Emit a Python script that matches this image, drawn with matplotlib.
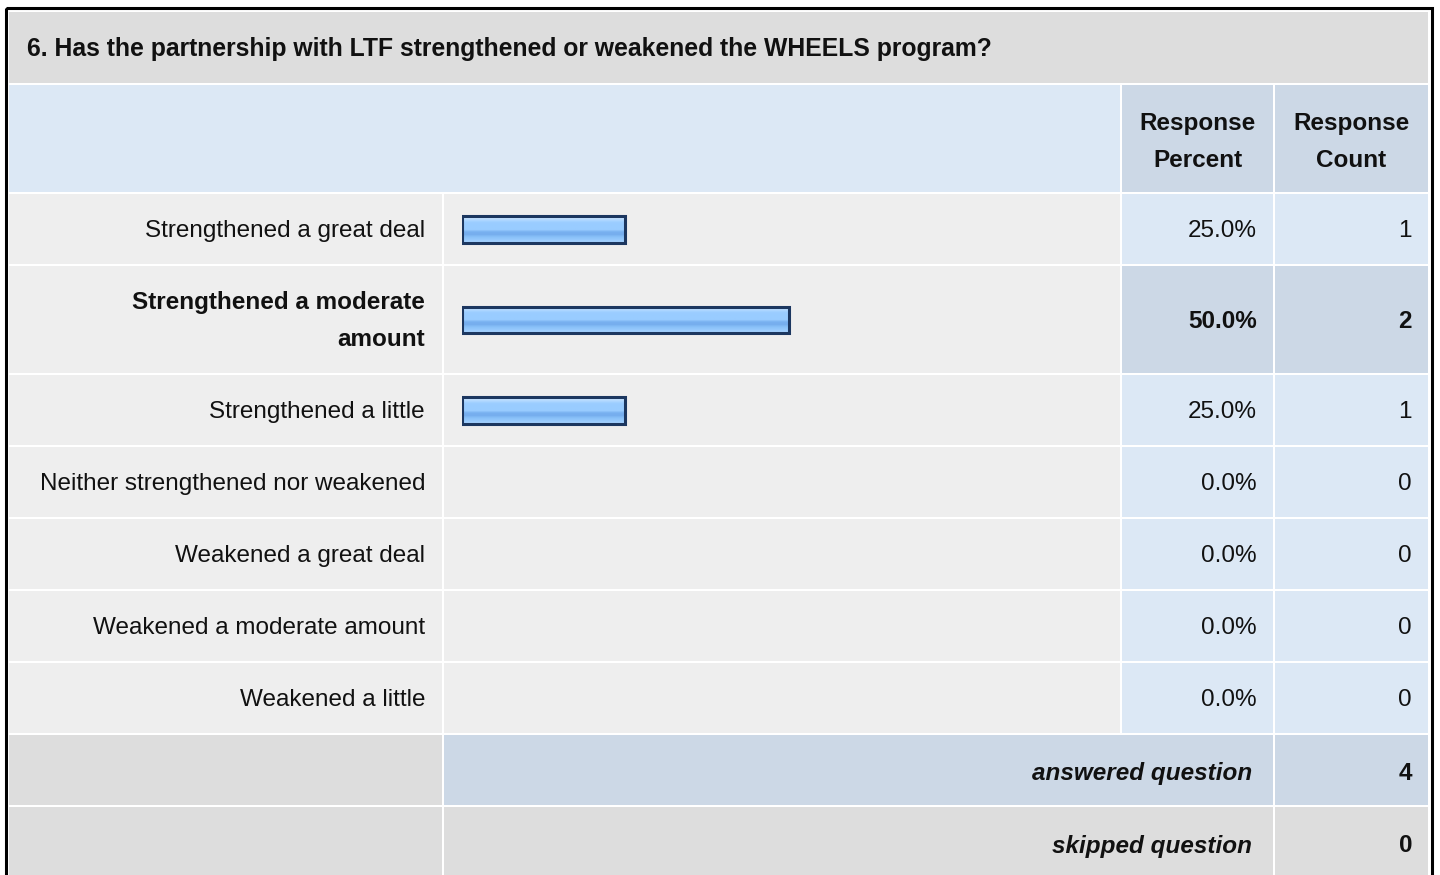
import numpy as np
import matplotlib.pyplot as plt
from matplotlib.patches import Rectangle
from matplotlib.colors import to_rgb

plt.rcParams['font.family'] = ['Liberation Sans', 'DejaVu Sans']

# survey data
question = '6. Has the partnership with LTF strengthened or weakened the WHEELS program?'
labels = ['Strengthened a great deal', 'Strengthened a moderate\namount',
          'Strengthened a little', 'Neither strengthened nor weakened',
          'Weakened a great deal', 'Weakened a moderate amount',
          'Weakened a little']
percents = [25.0, 50.0, 25.0, 0.0, 0.0, 0.0, 0.0]
counts = [1, 2, 1, 0, 0, 0, 0]
answered = 4
skipped = 0

# colours
c_gray = '#dddddd'
c_cell = '#eeeeee'
c_blue = '#dce8f5'
c_dblue = '#ccd8e6'
c_edge = '#1c3760'
grad = ['#cfe6ff', '#b4daff', '#9dceff', '#99ccff', '#99ccff', '#99ccff',
        '#78b0f0', '#76aeee', '#88c0f8', '#94c8fc', '#a4d2ff']

# layout in pixels (1440 x 875)
W, H = 1440, 875
xc = [9, 442, 444, 1120, 1122, 1273, 1275, 1428]   # column edges
rows = [(194, 264), (266, 373), (375, 445), (447, 517),
        (519, 589), (591, 661), (663, 733)]
ans_row = (735, 805)
skp_row = (807, 878)
fs = 17.5
tc = '#111111'
hi = int(np.argmax(counts))

fig = plt.figure(figsize=(W / 100, H / 100), dpi=100)
fig.patch.set_facecolor('white')
ax = fig.add_axes([0, 0, 1, 1])
ax.set_xlim(0, W)
ax.set_ylim(H, 0)
ax.axis('off')

def cell(x0, x1, y0, y1, col):
    ax.add_patch(Rectangle((x0, y0), x1 - x0, y1 - y0, facecolor=col,
                           edgecolor='none', zorder=1))

# outer frame
ax.add_patch(Rectangle((5.5, 7.5), 1426, 880, facecolor='none',
                       edgecolor='black', lw=2.2, zorder=3))

# title row
cell(xc[0], xc[7], 12, 83, c_gray)
ax.text(27, 56, question, fontsize=17.8, fontweight='bold', ha='left',
        va='baseline', color=tc)

# header row
cell(xc[0], xc[3], 85, 192, c_blue)
cell(xc[4], xc[5], 85, 192, c_dblue)
cell(xc[6], xc[7], 85, 192, c_dblue)
for x, words in [((xc[4] + xc[5]) / 2, ('Response', 'Percent')),
                 ((xc[6] + xc[7]) / 2, ('Response', 'Count'))]:
    ax.text(x, 130, words[0], fontsize=fs, fontweight='bold', ha='center',
            va='baseline', color=tc)
    ax.text(x, 167, words[1], fontsize=fs, fontweight='bold', ha='center',
            va='baseline', color=tc)

# answer rows
for i, (y0, y1) in enumerate(rows):
    bold = 'bold' if i == hi else 'normal'
    side = c_dblue if i == hi else c_blue
    cell(xc[0], xc[1], y0, y1, c_cell)
    cell(xc[2], xc[3], y0, y1, c_cell)
    cell(xc[4], xc[5], y0, y1, side)
    cell(xc[6], xc[7], y0, y1, side)
    yb = (y0 + y1) / 2 + 8
    lines = labels[i].split('\n')
    for k, ln in enumerate(lines):
        ax.text(425, yb + (k - (len(lines) - 1) / 2) * 37, ln, fontsize=fs,
                fontweight=bold, ha='right', va='baseline', color=tc)
    ax.text(1257, yb, f'{percents[i]:.1f}%', fontsize=fs, fontweight=bold,
            ha='right', va='baseline', color=tc)
    ax.text(1412, yb, str(counts[i]), fontsize=fs, fontweight=bold,
            ha='right', va='baseline', color=tc)

# answered / skipped
for (y0, y1), name, val, col in [(ans_row, 'answered question', answered, c_dblue),
                                 (skp_row, 'skipped question', skipped, c_gray)]:
    cell(xc[0], xc[1], y0, y1, c_gray)
    cell(xc[2], xc[5], y0, y1, col)
    cell(xc[6], xc[7], y0, y1, col)
    yb = (y0 + y1) / 2 + 10
    ax.text(1252, yb, name, fontsize=fs, fontweight='bold', fontstyle='italic',
            ha='right', va='baseline', color=tc)
    ax.text(1412, yb, str(val), fontsize=fs, fontweight='bold',
            ha='right', va='baseline', color=tc)

# bars: 0-100 % spans 655 px starting at x=461.5
bx = fig.add_axes([461.5 / W, 0, 655 / W, 1])
bx.set_xlim(0, 100)
bx.set_ylim(H, 0)
bx.axis('off')
bx.patch.set_alpha(0)
centers = [(y0 + y1) / 2 + 0.5 for y0, y1 in rows]
bars = bx.barh(centers, percents, height=26.5, color='none',
               edgecolor=c_edge, linewidth=2.2, zorder=3)
img = np.array([to_rgb(c) for c in grad])[:, None, :]
for b, p in zip(bars, percents):
    if p <= 0:
        b.set_visible(False)
        continue
    y = b.get_y()
    im = bx.imshow(img, extent=(0, p, y + b.get_height(), y), aspect='auto',
                   interpolation='bilinear', zorder=2)
    im.set_clip_path(b)
bx.set_xlim(0, 100)
bx.set_ylim(H, 0)

fig.savefig('out.png', dpi=100)
